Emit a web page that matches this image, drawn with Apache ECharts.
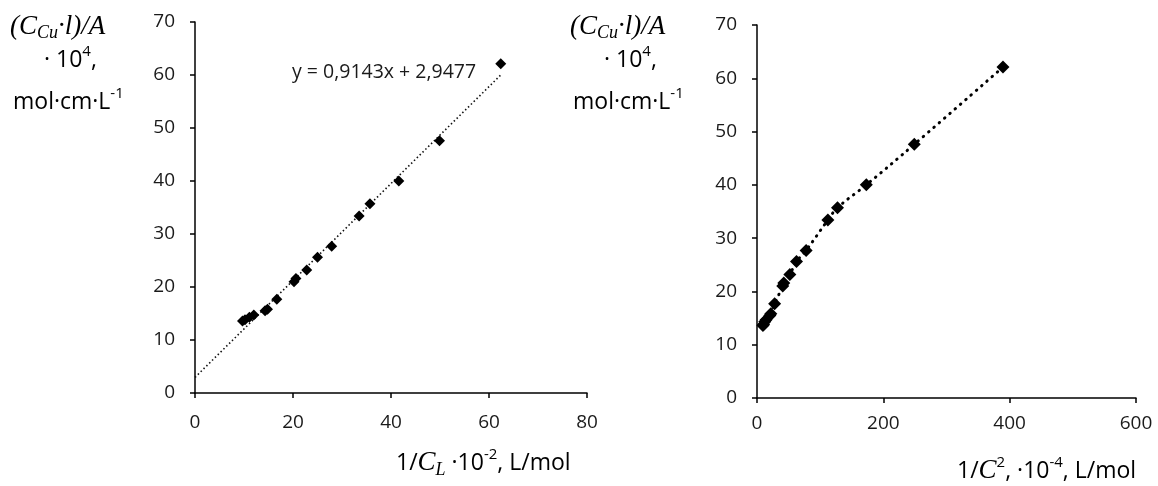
<!DOCTYPE html>
<html>
<head>
<meta charset="utf-8">
<script src="https://cdn.jsdelivr.net/npm/echarts@6/dist/echarts.min.js"></script>
<style>
html,body{margin:0;padding:0;background:#fff;}
#chart{width:1158px;height:486px;}
</style>
</head>
<body>
<div id="chart"></div>
<script>
// ---- data ----
var xLeft  = [9.7, 10.2, 11.1, 12.0, 14.3, 14.8, 16.7, 20.2, 20.6, 22.8, 25.0, 27.9, 33.5, 35.7, 41.6, 49.9, 62.4];
var yVals  = [13.6, 13.8, 14.3, 14.7, 15.5, 15.8, 17.7, 21.0, 21.6, 23.2, 25.6, 27.7, 33.4, 35.7, 40.0, 47.6, 62.1];
var xRight = [9.4, 10.4, 12.3, 14.4, 20.4, 21.9, 27.9, 40.8, 42.4, 52.0, 62.5, 77.8, 112.2, 127.4, 173.1, 249.0, 389.4];
var trendSlope = 0.9143;
var trendIntercept = 2.9477;
var trendX = [0, 62.4];
var trendLabel = 'y = 0,9143x + 2,9477';
var yTicks = [0, 70, 10];
var xTicksLeft = [0, 80, 20];
var xTicksRight = [0, 600, 200];

function pairs(xs, ys) { return xs.map(function (x, i) { return [x, ys[i]]; }); }

var chart = echarts.init(document.getElementById('chart'));
var labelFont = 'Open Sans';
var serif = 'Liberation Serif';

function axisCommon() {
  return {
    type: 'value',
    axisLine: { show: true, onZero: false, lineStyle: { color: '#000', width: 1.5 } },
    axisTick: { show: true, length: 5, lineStyle: { color: '#000', width: 1.5 } },
    splitLine: { show: false },
    axisLabel: { color: '#1a1a1a', fontFamily: labelFont, fontSize: 19 }
  };
}
function xAxis(idx, t, margin) {
  var a = axisCommon();
  a.gridIndex = idx; a.min = t[0]; a.max = t[1]; a.interval = t[2];
  a.axisLabel.margin = margin;
  return a;
}
function yAxis(idx, margin) {
  var a = axisCommon();
  a.gridIndex = idx; a.min = yTicks[0]; a.max = yTicks[1]; a.interval = yTicks[2];
  a.axisLabel.margin = margin;
  return a;
}

var richTitle = {
  m: { fontFamily: serif, fontStyle: 'italic', fontSize: 27, lineHeight: 32, color: '#111' },
  s: { fontFamily: serif, fontStyle: 'italic', fontSize: 18, lineHeight: 14, verticalAlign: 'bottom', color: '#111' },
  n: { fontFamily: labelFont, fontSize: 23, lineHeight: 32, color: '#111' },
  sup: { fontFamily: labelFont, fontSize: 15, lineHeight: 14, verticalAlign: 'top', color: '#111' }
};

function yTitle(x0) {
  return [
    { type: 'text', left: x0, top: 13, style: { text: '{m|(C}{s|Cu}{m|·l)/A}', rich: richTitle } },
    { type: 'text', left: x0 + 34, top: 44, style: { text: '{n|· 10}{sup|4}{n|,}', rich: richTitle } },
    { type: 'text', left: x0 + 3, top: 86, style: { text: '{n|mol·cm·L}{sup|-1}', rich: richTitle } }
  ];
}

var option = {
  backgroundColor: '#fff',
  animation: false,
  grid: [
    { left: 195, right: 571, top: 22, bottom: 93 },
    { left: 757, right: 22, top: 25, bottom: 88 }
  ],
  xAxis: [xAxis(0, xTicksLeft, 20), xAxis(1, xTicksRight, 16)],
  yAxis: [yAxis(0, 20), yAxis(1, 20)],
  series: [
    {
      type: 'line', xAxisIndex: 0, yAxisIndex: 0,
      data: trendX.map(function (x) { return [x, trendSlope * x + trendIntercept]; }),
      symbol: 'none',
      lineStyle: { color: '#111', width: 1.6, type: [1.5, 2.5] },
      z: 1
    },
    {
      type: 'scatter', xAxisIndex: 0, yAxisIndex: 0,
      data: pairs(xLeft, yVals),
      symbol: 'diamond', symbolSize: 11,
      itemStyle: { color: '#000', opacity: 1 },
      z: 2
    },
    {
      type: 'line', xAxisIndex: 1, yAxisIndex: 1,
      data: pairs(xRight, yVals),
      symbol: 'none', smooth: 0.4,
      lineStyle: { color: '#000', width: 3, type: [0.5, 6.5], cap: 'round' },
      z: 1
    },
    {
      type: 'scatter', xAxisIndex: 1, yAxisIndex: 1,
      data: pairs(xRight, yVals),
      symbol: 'diamond', symbolSize: 13,
      itemStyle: { color: '#000', opacity: 1 },
      z: 2
    }
  ],
  graphic: [].concat(
    yTitle(10),
    yTitle(570),
    [
      { type: 'text', left: 292, top: 62, style: { text: trendLabel, fontFamily: labelFont, fontSize: 19.5, fill: '#1a1a1a' } },
      { type: 'text', left: 396, top: 447, style: {
          text: '{n|1/}{m|C}{s|L}{n| ·10}{sup|-2}{n|, L/mol}', rich: richTitle } },
      { type: 'text', left: 957, top: 455, style: {
          text: '{n|1/}{m|C}{sup|2}{n|, ·10}{sup|-4}{n|, L/mol}', rich: richTitle } }
    ]
  )
};
chart.setOption(option);
</script>
</body>
</html>
